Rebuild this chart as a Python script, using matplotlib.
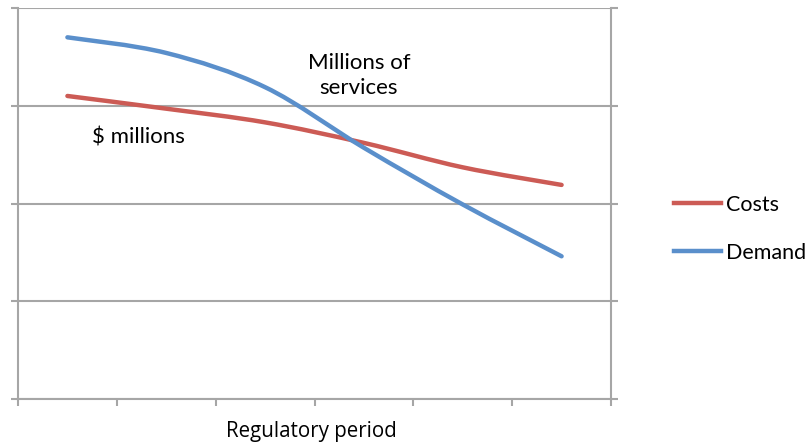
import matplotlib.pyplot as plt
import numpy as np
from matplotlib.path import Path
from matplotlib.patches import PathPatch

# values (arbitrary units, gridlines at 0..4)
periods = [1, 2, 3, 4, 5, 6]
costs = [3.10, 2.97, 2.83, 2.62, 2.37, 2.19]
demand = [3.70, 3.54, 3.19, 2.57, 1.99, 1.46]

red = "#CC5B55"
blue = "#5A8FCB"
grid_col = "#A6A6A6"


def smooth_path(xs, ys):
    # Excel-style smoothed line: cubic bezier segments, tension 1/6
    pts = np.column_stack([xs, ys]).astype(float)
    n = len(pts)
    verts = [pts[0]]
    codes = [Path.MOVETO]
    for i in range(n - 1):
        p0 = pts[max(i - 1, 0)]
        p1 = pts[i]
        p2 = pts[i + 1]
        p3 = pts[min(i + 2, n - 1)]
        verts += [p1 + (p2 - p0) / 6, p2 - (p3 - p1) / 6, p2]
        codes += [Path.CURVE4] * 3
    return Path(verts, codes)


fig = plt.figure(figsize=(8.09, 4.43), dpi=100)
ax = fig.add_axes([18 / 809, 1 - 399 / 443, (611 - 18) / 809, (399 - 8) / 443])

ax.set_xlim(0.5, 6.5)
ax.set_ylim(0, 4)

for vals, col, name in [(costs, red, "Costs"), (demand, blue, "Demand")]:
    ax.add_patch(PathPatch(smooth_path(periods, vals), fill=False,
                           edgecolor=col, lw=3.2, capstyle="round", zorder=3))
    ax.plot([], [], color=col, lw=3.2, label=name)

ax.set_yticks([0, 1, 2, 3, 4])
ax.set_xticks(np.arange(0.5, 7, 1))
ax.yaxis.grid(True, color=grid_col, lw=1.5)
ax.tick_params(axis="both", direction="out", length=5, width=1.5, color=grid_col,
               labelleft=False, labelbottom=False)
ax.tick_params(axis="y", right=True, labelright=False)
for s in ["left", "right", "bottom"]:
    ax.spines[s].set_color(grid_col)
    ax.spines[s].set_linewidth(1.5)
ax.spines["top"].set_visible(False)

ax.text(1.72, 2.68, "$ millions", fontsize=16, family="Lato",
        ha="center", va="center")
ax.text(3.95, 3.31, "Millions of\nservices", fontsize=16, family="Lato",
        ha="center", va="center", linespacing=1.35)

fig.text(311 / 809, 1 - 431 / 443, "Regulatory period", fontsize=14.8,
         family="Open Sans", ha="center", va="center")

leg = fig.legend(loc="center left", bbox_to_anchor=(674 / 809, 1 - 229 / 443),
                 frameon=False, handlelength=2.2, handletextpad=0.22,
                 labelspacing=1.3, borderpad=0, borderaxespad=0,
                 prop={"family": "Lato", "size": 15.5})

fig.savefig("out.png", dpi=100)
